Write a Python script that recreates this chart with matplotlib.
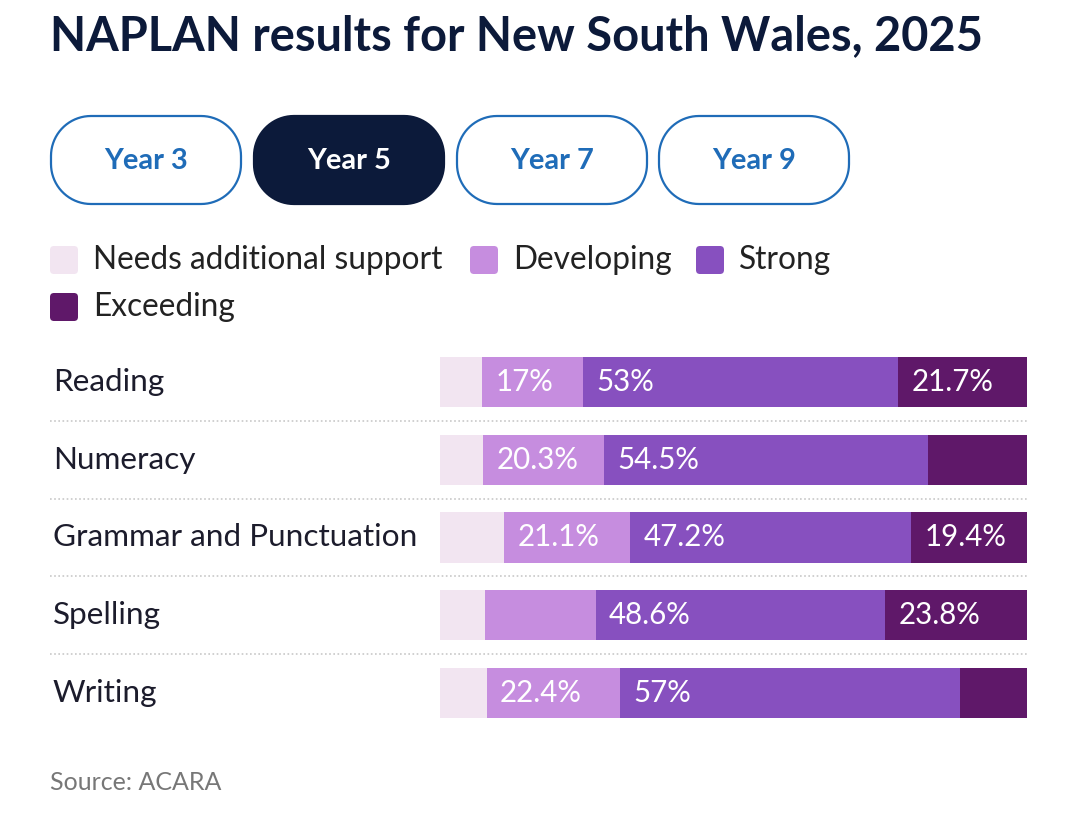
import matplotlib.pyplot as plt
import numpy as np
from matplotlib.patches import FancyBboxPatch, PathPatch
from matplotlib.path import Path
from matplotlib.transforms import blended_transform_factory

# data
subjects = ['Reading', 'Numeracy', 'Grammar and Punctuation', 'Spelling', 'Writing']
levels = ['Needs additional support', 'Developing', 'Strong', 'Exceeding']
needs = [7.1, 7.2, 10.7, 7.5, 7.8]
developing = [17.0, 20.3, 21.1, 18.6, 22.4]
strong = [53.0, 54.5, 47.2, 48.6, 57.0]
exceeding = [21.7, 16.6, 19.4, 23.8, 11.2]
# printed labels (None where the chart shows none)
lab_developing = ['17%', '20.3%', '21.1%', None, '22.4%']
lab_strong = ['53%', '54.5%', '47.2%', '48.6%', '57%']
lab_exceeding = ['21.7%', None, '19.4%', '23.8%', None]
years = ['Year 3', 'Year 5', 'Year 7', 'Year 9']
active_year = 'Year 5'

colors = ['#f2e5f1', '#c68ddf', '#8750bf', '#5f1869']
navy = '#0c1a3a'
blue = '#1f6cb8'
FONT = 'Lato'

W, H = 1080, 818
fig = plt.figure(figsize=(W / 100, H / 100), dpi=100)
pt = 72 / 100  # px -> pt


def pill(x0, y0, w, h, r):
    # rounded box with circular corners
    verts = []
    for cx, cy, a0, a1 in [(x0 + w - r, y0 + r, -90, 0), (x0 + w - r, y0 + h - r, 0, 90),
                           (x0 + r, y0 + h - r, 90, 180), (x0 + r, y0 + r, 180, 270)]:
        t = np.radians(np.linspace(a0, a1, 20))
        verts += list(zip(cx + r * np.cos(t), cy + r * np.sin(t)))
    verts.append(verts[0])
    return Path(verts, closed=True)


# decoration layer in pixel coordinates
deco = fig.add_axes([0, 0, 1, 1])
deco.set_xlim(0, W)
deco.set_ylim(H, 0)
deco.axis('off')

deco.text(50, 36, 'NAPLAN results for New South Wales, 2025', fontsize=47 * pt,
          fontweight='bold', color=navy, va='center', ha='left', family=FONT)

# year buttons
bx = [50, 253, 456, 658]
for x0, yr in zip(bx, years):
    on = yr == active_year
    deco.add_patch(PathPatch(pill(x0 + 1, 116, 190, 88, 40),
                             facecolor=navy if on else 'white',
                             edgecolor=navy if on else blue, linewidth=1.6))
    deco.text(x0 + 96, 161, yr, fontsize=29 * pt, fontweight='bold',
              color='white' if on else blue, ha='center', va='center', family=FONT)

# legend
leg_pos = [(50, 260), (470, 260), (696, 260), (50, 307)]
for (lx, ly), name, c in zip(leg_pos, levels, colors):
    sq = FancyBboxPatch((lx, ly - 14), 28, 28, boxstyle='round,pad=0,rounding_size=4',
                        facecolor=c, edgecolor='none')
    deco.add_patch(sq)
    deco.text(lx + 43, ly, name, fontsize=31.7 * pt, color='#222222',
              va='center', ha='left', family=FONT)

deco.text(50, 782, 'Source: ACARA', fontsize=25 * pt, color='#777777',
          va='center', ha='left', family=FONT)

# bars
ax = fig.add_axes([440 / W, 1 - 732 / H, 587 / W, 389 / H])
n = len(subjects)
y = np.arange(n)
data = np.array([needs, developing, strong, exceeding])
totals = data.sum(axis=0)
shares = data / totals * 100
labels = [[None] * n, lab_developing, lab_strong, lab_exceeding]

left = np.zeros(n)
for k in range(4):
    ax.barh(y, shares[k], left=left, height=0.643, color=colors[k], edgecolor='none')
    for i in range(n):
        if labels[k][i]:
            ax.text(left[i] + 2.3, y[i], labels[k][i], color='white',
                    fontsize=29.5 * pt, va='center', ha='left', family=FONT)
    left += shares[k]

ax.set_xlim(0, 100)
ax.set_ylim(n - 0.5, -0.5)
ax.axis('off')

trans = blended_transform_factory(fig.transFigure, ax.transData)
for i, s in enumerate(subjects):
    ax.text(53 / W, i, s, transform=trans, fontsize=31.5 * pt, color='#1c1c2c',
            va='center', ha='left', family=FONT)
for i in range(n - 1):
    ax.plot([50 / W, 1027 / W], [i + 0.5, i + 0.5], transform=trans, clip_on=False,
            color='#c8c8c8', linestyle=(0, (1, 1.5)), linewidth=1.2)

fig.savefig('out.png', dpi=100)
